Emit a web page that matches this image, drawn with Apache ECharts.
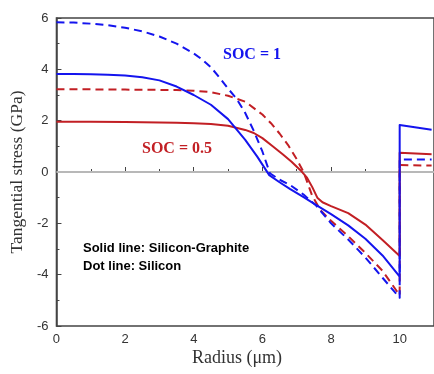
<!DOCTYPE html>
<html>
<head>
<meta charset="utf-8">
<script src="https://cdn.jsdelivr.net/npm/echarts@6/dist/echarts.min.js"></script>
<style>
  html, body { margin: 0; padding: 0; background: #fff; }
  #chart { width: 434px; height: 374px; }
</style>
</head>
<body>
<div id="chart"></div>
<script>
// Tangential stress profiles across the particle radius
const xTicks = [0, 2, 4, 6, 8, 10];

// Silicon-Graphite, SOC = 1 (solid blue)
const sigFullX = [0, 0.5, 1, 1.5, 2, 2.5, 3, 3.5, 4, 4.5, 5, 5.5, 5.85, 6.2, 6.5, 6.8, 7.2, 7.56, 8.0, 8.5, 9.0, 9.5, 10, 10, 10.93];
const sigFullY = [3.82, 3.82, 3.81, 3.79, 3.76, 3.69, 3.57, 3.33, 3.0, 2.62, 2.06, 1.25, 0.6, -0.12, -0.4, -0.66, -0.98, -1.28, -1.64, -2.08, -2.6, -3.25, -4.08, 1.83, 1.65];

// Silicon, SOC = 1 (dashed blue)
const siFullX = [0, 0.5, 1, 1.5, 2, 2.5, 3, 3.5, 4, 4.25, 4.5, 4.75, 5, 5.25, 5.5, 5.75, 6.0, 6.22, 6.5, 6.8, 7.2, 7.56, 8.0, 8.5, 9.0, 9.5, 10, 10, 10.93];
const siFullY = [5.83, 5.82, 5.78, 5.72, 5.62, 5.48, 5.28, 5.0, 4.62, 4.38, 4.08, 3.68, 3.25, 2.85, 2.3, 1.6, 0.8, -0.05, -0.3, -0.5, -0.88, -1.3, -2.0, -2.63, -3.33, -4.12, -4.9, 0.49, 0.49];

// Silicon-Graphite, SOC = 0.5 (solid red)
const sigHalfX = [0, 1, 2, 3, 3.5, 4, 4.5, 5, 5.5, 5.75, 6, 6.3, 6.6, 6.85, 7.1, 7.3, 7.45, 7.6, 7.75, 8.0, 8.5, 9.0, 9.5, 10, 10, 10.93];
const sigHalfY = [1.96, 1.96, 1.95, 1.93, 1.92, 1.9, 1.87, 1.8, 1.64, 1.52, 1.32, 1.0, 0.68, 0.4, 0.08, -0.22, -0.58, -1.0, -1.18, -1.33, -1.6, -2.05, -2.65, -3.27, 0.75, 0.69];

// Silicon, SOC = 0.5 (dashed red)
const siHalfX = [0, 1, 2, 3, 3.5, 4, 4.5, 5, 5.5, 6, 6.25, 6.5, 6.75, 7.0, 7.2, 7.45, 7.7, 8.0, 8.5, 9.0, 9.5, 10, 10, 10.93];
const siHalfY = [3.22, 3.22, 3.21, 3.2, 3.19, 3.17, 3.11, 2.97, 2.74, 2.24, 1.9, 1.5, 1.05, 0.5, 0.0, -0.92, -1.5, -1.9, -2.5, -3.15, -3.85, -4.8, 0.27, 0.25];

const BLUE = '#1414ee';
const RED = '#c21f24';

const pairs = (xs, ys) => xs.map((x, i) => [x, ys[i]]);

function lineSeries(name, xs, ys, color, dashed, z) {
  return {
    name: name,
    type: 'line',
    data: pairs(xs, ys),
    smooth: false,
    symbol: 'none',
    z: z,
    lineStyle: { color: color, width: 2, type: dashed ? [8, 5] : 'solid', join: 'round' },
    animation: false
  };
}

const chart = echarts.init(document.getElementById('chart'), null, { renderer: 'canvas' });

chart.setOption({
  animation: false,
  grid: {
    left: 53, top: 18, bottom: 48, right: -3,
    show: true, borderColor: '#444', borderWidth: 1.5, backgroundColor: 'transparent'
  },
  xAxis: {
    type: 'value', min: 0, max: 11, interval: 2,
    axisLine: { show: true, lineStyle: { color: '#444', width: 1.5 } },
    axisTick: { show: true, inside: true, length: 5, lineStyle: { color: '#444' } },
    minorTick: { show: true, splitNumber: 2, length: 3, lineStyle: { color: '#444' } },
    splitLine: { show: false },
    axisLabel: {
      color: '#333', fontSize: 13, fontFamily: 'Liberation Sans', margin: 7,
      showMaxLabel: false,
      formatter: v => (xTicks.indexOf(v) >= 0 ? String(v) : '')
    }
  },
  yAxis: {
    type: 'value', min: -6, max: 6, interval: 2,
    axisLine: { show: true, lineStyle: { color: '#444', width: 1.5 } },
    axisTick: { show: true, inside: true, length: 5, lineStyle: { color: '#444' } },
    minorTick: { show: true, splitNumber: 2, length: 3, lineStyle: { color: '#444' } },
    splitLine: { show: false },
    axisLabel: { color: '#333', fontSize: 13, fontFamily: 'Liberation Sans', margin: 8 },
    name: 'Tangential stress (GPa)',
    nameLocation: 'middle',
    nameGap: 28,
    nameTextStyle: { fontFamily: 'Liberation Serif', fontSize: 17.5, color: '#333' }
  },
  series: [
    {
      type: 'line', data: [[0, 0], [11, 0]], symbol: 'none', z: 1,
      lineStyle: { color: '#b8b8b8', width: 2 }, animation: false
    },
    lineSeries('Si SOC 0.5', siHalfX, siHalfY, RED, true, 2),
    lineSeries('Si SOC 1', siFullX, siFullY, BLUE, true, 3),
    lineSeries('Si-G SOC 0.5', sigHalfX, sigHalfY, RED, false, 4),
    lineSeries('Si-G SOC 1', sigFullX, sigFullY, BLUE, false, 5)
  ],
  graphic: [
    {
      type: 'text', left: 223, top: 47,
      style: { text: 'SOC = 1', fill: BLUE, font: 'bold 16px "Liberation Serif"' }
    },
    {
      type: 'text', left: 142, top: 141,
      style: { text: 'SOC = 0.5', fill: RED, font: 'bold 16px "Liberation Serif"' }
    },
    {
      type: 'text', left: 83, top: 242,
      style: { text: 'Solid line: Silicon-Graphite', fill: '#000', font: 'bold 13px "Liberation Sans"' }
    },
    {
      type: 'text', left: 83, top: 260,
      style: { text: 'Dot line: Silicon', fill: '#000', font: 'bold 13px "Liberation Sans"' }
    },
    {
      type: 'text', x: 237, y: 358,
      style: {
        text: 'Radius (μm)', fill: '#333', font: '18px "Liberation Serif"',
        align: 'center', verticalAlign: 'middle'
      }
    }
  ]
});
</script>
</body>
</html>
